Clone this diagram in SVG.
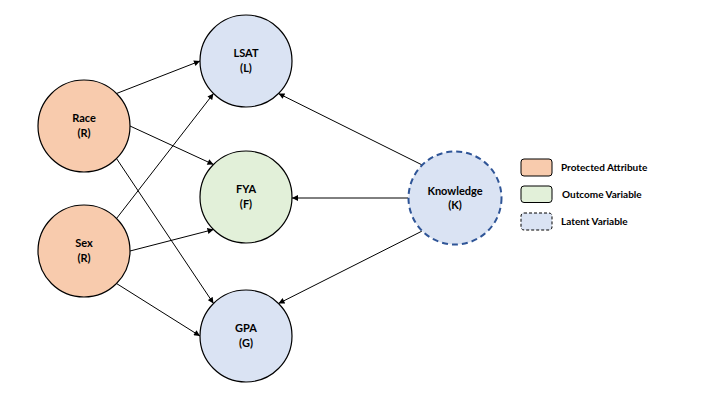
<svg xmlns="http://www.w3.org/2000/svg" width="720" height="405" viewBox="0 0 720 405">
<style>
text{font-family:Lato,"Liberation Sans",sans-serif;font-weight:bold;font-size:11px;fill:#000}
.lbl{text-anchor:middle}
.leg{font-size:10px}
.edge{stroke:#000;stroke-width:1;fill:none;marker-end:url(#ah)}
.prot{fill:#F8CBAD;stroke:#000;stroke-width:1.2}
.obs{fill:#DAE3F3;stroke:#000;stroke-width:1.2}
.out{fill:#E2F0D9;stroke:#000;stroke-width:1.2}
.lat{fill:#DAE3F3;stroke:#2F5597;stroke-width:2;stroke-dasharray:6 4}
</style>
<defs>
<marker id="ah" viewBox="0 0 10 10" refX="10" refY="5" markerWidth="7" markerHeight="6" markerUnits="userSpaceOnUse" orient="auto">
<path d="M0,0 L10,5 L0,10 z" fill="#000"/>
</marker>
</defs>
<rect width="720" height="405" fill="#fff"/>
<g id="connectors">
<line class="edge" x1="116.5" y1="93.5" x2="200" y2="61"/>
<line class="edge" x1="130" y1="126" x2="213.5" y2="164.5"/>
<line class="edge" x1="116.5" y1="158.5" x2="213.5" y2="303.5"/>
<line class="edge" x1="116.5" y1="218.5" x2="213.5" y2="93.5"/>
<line class="edge" x1="130" y1="251" x2="213.5" y2="229.5"/>
<line class="edge" x1="116.5" y1="283.5" x2="200" y2="336"/>
<line class="edge" x1="421.8" y1="164.8" x2="278.5" y2="93.5"/>
<line class="edge" x1="408" y1="198" x2="292" y2="198"/>
<line class="edge" x1="421.8" y1="231.2" x2="278.5" y2="303.5"/>
</g>
<g id="race"><circle class="prot" cx="84" cy="126" r="46"/><text class="lbl" x="84" y="122">Race</text><text class="lbl" x="84" y="137">(R)</text></g>
<g id="sex"><circle class="prot" cx="84" cy="251" r="46"/><text class="lbl" x="84" y="247">Sex</text><text class="lbl" x="84" y="262">(R)</text></g>
<g id="lsat"><circle class="obs" cx="246" cy="61" r="46"/><text class="lbl" x="246" y="57">LSAT</text><text class="lbl" x="246" y="72">(L)</text></g>
<g id="fya"><circle class="out" cx="246" cy="197" r="46"/><text class="lbl" x="246" y="193">FYA</text><text class="lbl" x="246" y="208">(F)</text></g>
<g id="gpa"><circle class="obs" cx="246" cy="336" r="46"/><text class="lbl" x="246" y="332">GPA</text><text class="lbl" x="246" y="347">(G)</text></g>
<g id="knowledge"><circle class="lat" cx="455" cy="198" r="46.5"/><text class="lbl" x="455" y="195">Knowledge</text><text class="lbl" x="455" y="209">(K)</text></g>
<g id="legend">
<rect x="521" y="159" width="31" height="17" rx="3" fill="#F8CBAD" stroke="#000" stroke-width="1"/>
<text class="leg" x="561" y="171">Protected Attribute</text>
<rect x="521" y="186" width="31" height="16.5" rx="3" fill="#E2F0D9" stroke="#000" stroke-width="1"/>
<text class="leg" x="562" y="197.5">Outcome Variable</text>
<rect x="521" y="213" width="31" height="17" rx="3" fill="#DAE3F3" stroke="#000" stroke-width="1" stroke-dasharray="3 2"/>
<text class="leg" x="561" y="224.5">Latent Variable</text>
</g>
</svg>
